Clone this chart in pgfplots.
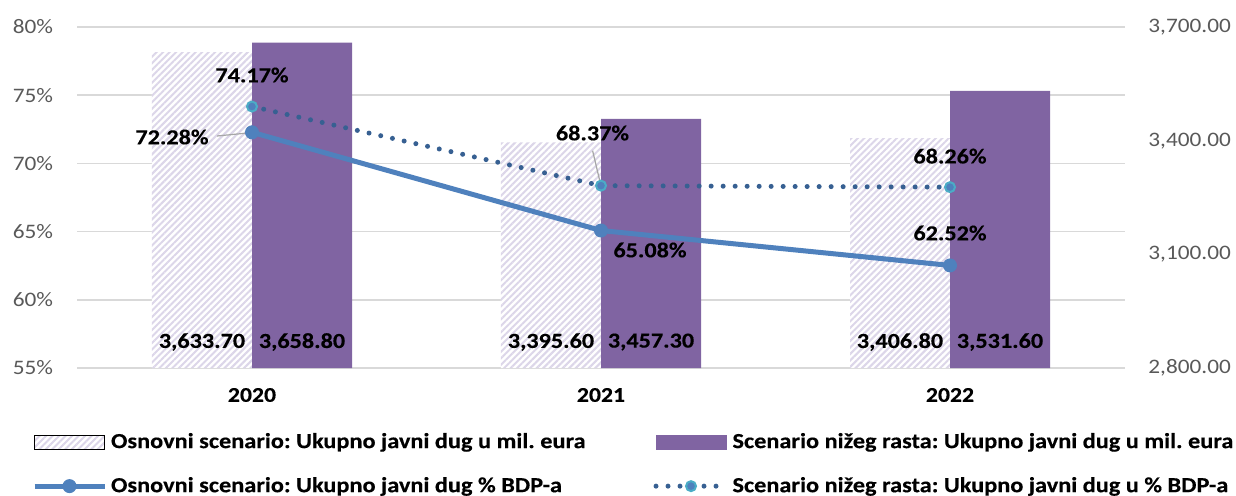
\documentclass[border=0pt]{standalone}
\usepackage{fontspec}
\setmainfont{Carlito}[FakeStretch=1.13, BoldFeatures={FakeBold=0.3}]
\usepackage{pgfplots}
\usepackage{pgfplotstable}
\pgfplotsset{compat=1.18}
\usetikzlibrary{patterns.meta}
\frenchspacing

\definecolor{gridc}{HTML}{D9D9D9}
\definecolor{tickc}{HTML}{595959}
\definecolor{purp}{HTML}{8064A2}
\definecolor{hatch}{RGB}{220,214,233}
\definecolor{blue1}{HTML}{4F81BD}
\definecolor{dotc}{HTML}{376092}
\definecolor{cyanc}{HTML}{4BACC6}

\pgfplotstableread{
x osn niz
0 3633.70 3658.80
1 3395.60 3457.30
2 3406.80 3531.60
}\bars

\pgfplotstableread{
x y dx dy
0 72.28 -40 -2.35
1 65.08 24.5 -9.75
2 62.52 0 16.2
}\osnpct

\pgfplotstableread{
x y dx dy
0 74.17 0 15.75
1 68.37 -4.25 26.3
2 68.26 0 15.5
}\nizpct

\tikzset{lbl/.style={font=\bfseries\fontsize{10.7}{13}\selectfont, text=black, inner sep=0pt, anchor=center}}
\pgfplotsset{
  base/.style={scale only axis, width=523.5pt, height=170.5pt,
    xmin=-0.5, xmax=2.5, xtick={0,1,2},
    axis line style={draw=none}, major tick style={draw=none},
    /pgf/number format/assume math mode=true,
    ticklabel style={font=\fontsize{10.3}{12}\selectfont, text=tickc, inner sep=0pt}},
  lineleg/.style={legend image code/.code={\draw[mark repeat=2,mark phase=2,##1] plot coordinates {(0pt,0pt) (17.5pt,0pt) (35pt,0pt)};}},
}

\begin{document}
\begin{tikzpicture}
% grid + left ticks + categories
\begin{axis}[base, ymin=55, ymax=80, ytick={55,60,...,80},
  yticklabel={\pgfmathprintnumber{\tick}\%},
  ymajorgrids, grid style={gridc, line width=0.8pt},
  xticklabels={2020,2021,2022},
  xticklabel style={font=\bfseries\fontsize{10.5}{13}\selectfont, text=black, anchor=center, yshift=-13.5pt},
  yticklabel style={anchor=east, xshift=-12pt}]
\end{axis}
% bars, right axis
\begin{axis}[base, ymin=2800, ymax=3700, ytick={2800,3100,3400,3700},
  axis y line*=right, hide x axis, scaled y ticks=false,
  yticklabel style={/pgf/number format/fixed, /pgf/number format/fixed zerofill,
    /pgf/number format/precision=2, /pgf/number format/1000 sep={,}, anchor=west, xshift=11.75pt}]
\addplot[ybar, bar width=0.2865, bar shift=-0.1433, draw=none, fill=white,
  postaction={pattern={Lines[angle=45,distance=2.3pt,line width=1pt]}, pattern color=hatch}]
  table[x=x,y=osn]{\bars};
\addplot[ybar, bar width=0.2865, bar shift=0.1433, draw=none, fill=purp]
  table[x=x,y=niz]{\bars};
\addplot[draw=none, point meta=\thisrow{osn},
  nodes near coords={\pgfmathprintnumber[fixed,fixed zerofill,precision=2,1000 sep={,}]{\pgfplotspointmeta}},
  every node near coord/.append style={lbl}]
  table[x expr=\thisrow{x}-0.1433, y expr=2868.6]{\bars};
\addplot[draw=none, point meta=\thisrow{niz},
  nodes near coords={\pgfmathprintnumber[fixed,fixed zerofill,precision=2,1000 sep={,}]{\pgfplotspointmeta}},
  every node near coord/.append style={lbl}]
  table[x expr=\thisrow{x}+0.1433, y expr=2868.6]{\bars};
\end{axis}
% lines
\begin{axis}[base, ymin=55, ymax=80, hide axis, clip=false,
  legend columns=2, legend cell align=left,
  legend style={draw=none, fill=none, at={(0,0)}, anchor=north west,
    xshift=-22.75pt, yshift=-30.5pt, inner sep=0pt, outer sep=0pt,
    font=\bfseries\fontsize{10.75}{13}\selectfont, row sep=9pt,
    /tikz/column 2/.style={column sep=32pt}}]
\addlegendimage{legend image code/.code={
  \fill[white] (0pt,-3.5pt) rectangle (35pt,3.5pt);
  \fill[pattern={Lines[angle=45,distance=2.3pt,line width=1pt]}, pattern color=hatch] (0pt,-3.5pt) rectangle (35pt,3.5pt);}}
\addlegendentry{Osnovni scenario: Ukupno javni dug u mil. eura}
\addlegendimage{legend image code/.code={
  \fill[purp] (0pt,-3.5pt) rectangle (35pt,3.5pt);}}
\addlegendentry{Scenario nižeg rasta: Ukupno javni dug u mil. eura}
\addplot[forget plot, gray!70, line width=0.6pt] coordinates {(-0.1003,72.01) (-0.0037,72.25)};
\addplot[forget plot, gray!70, line width=0.6pt] coordinates {(0.976,70.93) (0.997,68.66)};
\addplot[blue1, line width=2.5pt, mark=*, mark size=3.25pt,
  mark options={fill=blue1, draw=blue1, line width=0.5pt, solid},
  lineleg,
  point meta=y,
  nodes near coords={\pgfmathprintnumber[fixed,fixed zerofill,precision=2]{\pgfplotspointmeta}\%},
  visualization depends on={\thisrow{dx} \as \dx},
  visualization depends on={\thisrow{dy} \as \dy},
  every node near coord/.append style={lbl, xshift=\dx pt, yshift=\dy pt}]
  table[x=x,y=y]{\osnpct};
\addlegendentry{Osnovni scenario: Ukupno javni dug \% BDP-a}
\addplot[dotc, line width=2.5pt, line cap=round, dash pattern=on 0pt off 6pt,
  mark=*, mark size=2.5pt,
  mark options={solid, fill=blue1, draw=cyanc, line width=1pt},
  lineleg,
  point meta=y,
  nodes near coords={\pgfmathprintnumber[fixed,fixed zerofill,precision=2]{\pgfplotspointmeta}\%},
  visualization depends on={\thisrow{dx} \as \dx},
  visualization depends on={\thisrow{dy} \as \dy},
  every node near coord/.append style={lbl, xshift=\dx pt, yshift=\dy pt}]
  table[x=x,y=y]{\nizpct};
\addlegendentry{Scenario nižeg rasta: Ukupno javni dug u \% BDP-a}
\end{axis}
\pgfresetboundingbox
\path[use as bounding box] (-38.75pt,-63.5pt) rectangle (579.25pt,184pt);
\end{tikzpicture}
\end{document}
